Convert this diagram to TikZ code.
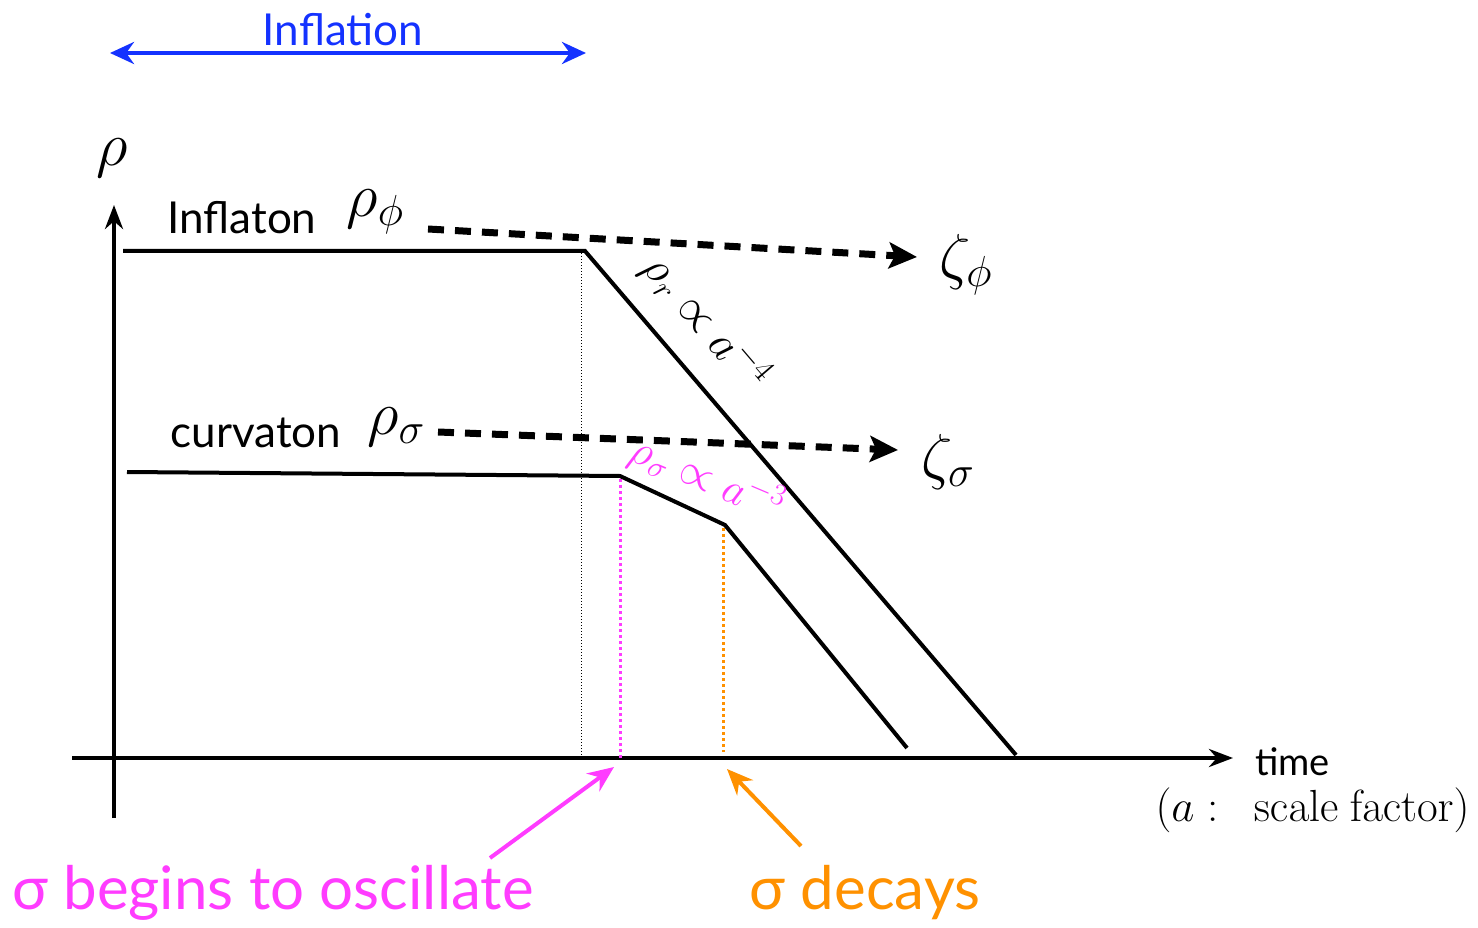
\RequirePackage{fix-cm}
\documentclass[tikz,border=0pt]{standalone}
\usepackage[no-math]{fontspec}
\setmainfont{Lato}
\usepackage{amsmath}
\usetikzlibrary{arrows.meta}
\definecolor{infblue}{RGB}{20,50,255}
\definecolor{osc}{RGB}{255,60,255}
\definecolor{dec}{RGB}{255,145,0}
\tikzset{
  curve/.style={line width=4pt, line join=miter},
  axis/.style={line width=4pt, -{Stealth[length=24pt,width=18pt]}},
  flow/.style={line width=7pt, dash pattern=on 16pt off 11pt, -{Stealth[length=28pt,width=26pt,inset=6pt]}},
  lbl/.style={inner sep=0pt, font=\fontsize{44}{50}\selectfont},
  blbl/.style={inner sep=0pt, font=\fontsize{60}{66}\selectfont},
  mlbl/.style={inner sep=0pt, font=\fontsize{62}{66}\selectfont},
}
\begin{document}
\begin{tikzpicture}[x=1pt,y=-1pt]
\useasboundingbox (0,0) rectangle (1478,928);
% Inflation period
\coordinate (il) at (110,53);
\coordinate (ir) at (586,53);
\draw[infblue, line width=4pt, {Stealth[length=24pt,width=22pt]}-{Stealth[length=24pt,width=22pt]}] (il) -- (ir);
\node[lbl, text=infblue] (inftxt) at (343,30) {Inflation};
% axes
\coordinate (yb) at (114,818);
\coordinate (yt) at (114,205);
\coordinate (xl) at (72,758);
\coordinate (xr) at (1233,758);
\draw[axis] (yb) -- (yt);
\draw[axis] (xl) -- (xr);
\node[mlbl] (rho) at (112,158) {$\rho$};
\node[inner sep=0pt, anchor=west, font=\fontsize{38}{40}\selectfont] (time) at (1255,762) {time};
\node[inner sep=0pt, anchor=east, font=\fontsize{45}{50}\selectfont] (sf) at (1470,810) {$(a:\ \ \mathrm{scale\ factor})$};
% inflaton curve
\coordinate (p0) at (123,251);
\coordinate (p1) at (585,251);
\coordinate (p2) at (1016,755);
\draw[curve] (p0) -- (p1) -- (p2);
\coordinate (d1) at (581,758);
\draw[dotted, line width=1pt] (581,253) -- (d1);
\node[lbl] (inflaton) at (242,218) {Inflaton};
\node[mlbl] (rhophi) at (375,212) {$\rho_\phi$};
\node[mlbl] (zphi) at (966,265) {$\zeta_\phi$};
\coordinate (tphi) at (917,257);
\draw[flow] (428,229) -- (tphi);
\node[inner sep=0pt, rotate=-49.5, font=\fontsize{46}{50}\selectfont] (rlaw) at (706,322) {$\rho_r\propto a^{-4}$};
% curvaton curve
\coordinate (q0) at (127,472);
\coordinate (q1) at (620,476);
\coordinate (q2) at (725,525);
\coordinate (q3) at (907,748);
\draw[curve] (q0) -- (q1) -- (q2) -- (q3);
\coordinate (m1) at (620,760);
\coordinate (o1) at (723,752);
\draw[osc, line width=3pt, dash pattern=on 3pt off 3pt] (620,479) -- (m1);
\draw[dec, line width=3pt, dash pattern=on 3pt off 3pt] (723,528) -- (o1);
\node[lbl] (curvaton) at (256,433) {curvaton};
\node[mlbl] (rhosig) at (396,427) {$\rho_\sigma$};
\node[mlbl] (zsig) at (948,462) {$\zeta_\sigma$};
\coordinate (tsig) at (898,450);
\draw[flow] (438,432) -- (tsig);
\node[inner sep=0pt, rotate=-23, text=osc, font=\fontsize{44}{48}\selectfont] (slaw) at (707,478) {$\rho_\sigma\propto a^{-3}$};
% annotations
\node[blbl, text=osc] (osctxt) at (273,893) {σ begins to oscillate};
\node[blbl, text=dec] (dectxt) at (865,893) {σ decays};
\coordinate (ma) at (614,767);
\coordinate (oa) at (727,769);
\draw[osc, line width=4pt, -{Stealth[length=26pt,width=22pt]}] (490,858) -- (ma);
\draw[dec, line width=4pt, -{Stealth[length=26pt,width=22pt]}] (801,846) -- (oa);
\end{tikzpicture}
\end{document}
